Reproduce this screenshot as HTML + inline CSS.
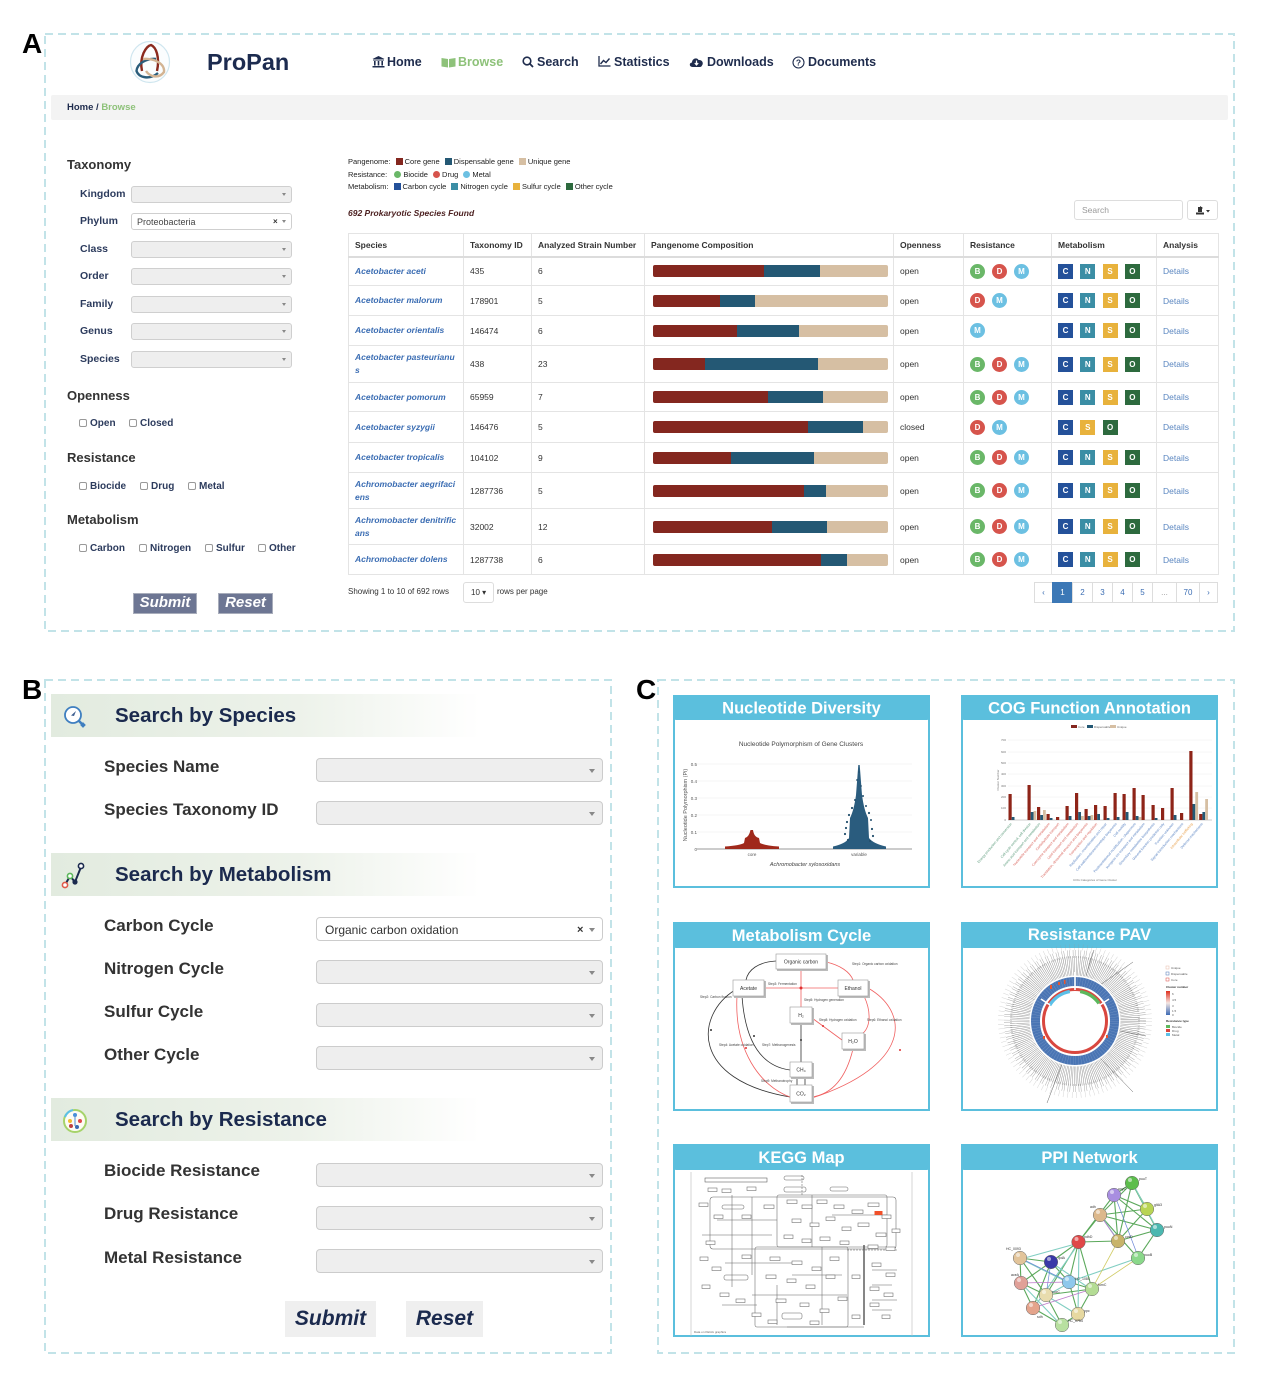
<!DOCTYPE html>
<html><head><meta charset="utf-8"><title>ProPan</title>
<style>
*{margin:0;padding:0;box-sizing:border-box}
html,body{width:1269px;height:1394px;background:#fff;overflow:hidden}
body{position:relative;font-family:"Liberation Sans",Arial,sans-serif;color:#333}
.a{position:absolute;white-space:nowrap}
.lbl{font-size:28px;font-weight:bold;color:#000;line-height:28px}
.nav{font-size:12.5px;font-weight:bold;color:#1f2c4d;line-height:16px;top:54px}
.h1{font-size:13px;font-weight:bold;color:#333;line-height:16px;left:67px}
.fl{font-size:10.5px;font-weight:bold;color:#2c3b5d;line-height:14px;left:80px}
.sel{position:absolute;left:131px;width:161px;height:17px;background:#eee;border:1px solid #cfcfcf;border-radius:3px}
.sel:after{content:"";position:absolute;right:5px;top:6px;border-left:2.5px solid transparent;border-right:2.5px solid transparent;border-top:3px solid #888}
.cb{font-size:10px;font-weight:bold;color:#2c3b5d;line-height:12px}
.cb i{display:inline-block;width:8px;height:8px;border:1px solid #999;border-radius:2px;margin-right:3px;vertical-align:-0.5px;background:#fff}
.btnA{position:absolute;background:#6d7693;border:1px solid #a8adbb;color:#fff;font-style:italic;font-weight:bold;font-size:15px;text-align:center;line-height:18px;height:21px;top:593px}
.lg{font-size:7.5px;color:#222;line-height:10px;left:348px}
.lg b{display:inline-block;width:7px;height:7px;margin:0 2px 0 3px;vertical-align:-0.5px}
.lg u{display:inline-block;width:7px;height:7px;border-radius:50%;margin:0 2px 0 3px;vertical-align:-0.5px;text-decoration:none}
.t{position:absolute;border-collapse:collapse;table-layout:fixed;font-size:8.5px;color:#333}
.t td,.t th{border:1px solid #e4e4e4;padding:0 0 0 6px;vertical-align:middle;text-align:left;white-space:nowrap;overflow:hidden}
.t th{font-weight:bold;border-bottom:2px solid #dcdcdc}
.t td.sp{color:#3b6db3;font-style:italic;font-weight:bold;line-height:13px}
.bar{display:flex;width:235px;height:12px;border-radius:2px;overflow:hidden;margin-left:2px}
.bar i{display:block;height:12px}
.bar .c{background:#84271f}.bar .d{background:#245874}.bar .u{background:#d6bfa3;flex:1}
.rs i{display:inline-block;width:15px;height:15px;border-radius:50%;color:#fff;font-size:8px;font-weight:bold;text-align:center;line-height:15px;margin-right:7px;font-style:normal;vertical-align:middle}
.mt i{display:inline-block;width:15px;height:15px;color:#fff;font-size:8px;font-weight:bold;text-align:center;line-height:15px;margin-right:7.3px;font-style:normal;vertical-align:middle}
i.B{background:#6ab768}i.D{background:#d6544c}i.M{background:#6cc0e2}
i.C{background:#24519a}i.N{background:#3b8ea5}i.S{background:#e8b23c}i.O{background:#2d6a3e}
.t td.dt{color:#5a86c0}
.pgn{position:absolute;top:582px;height:21px;border:1px solid #ddd;font-size:8px;color:#3b6db3;text-align:center;line-height:19px;background:#fff}
.hb{position:absolute;left:51px;width:550px;height:43px;background:linear-gradient(90deg,#e2ebdf 0%,#edf2ea 45%,#fff 78%)}
.ht{position:absolute;left:115px;font-size:20.5px;font-weight:bold;color:#1b2a4e;line-height:24px}
.bl{position:absolute;left:104px;font-size:17px;font-weight:bold;color:#333;line-height:20px}
.bs{position:absolute;left:316px;width:287px;height:24px;background:#eee;border:1px solid #ccc;border-radius:4px}
.bs:after{content:"";position:absolute;right:7px;top:10px;border-left:3px solid transparent;border-right:3px solid transparent;border-top:4px solid #888}
.btnB{position:absolute;top:1301px;height:36px;background:#efefef;color:#1b2a4e;font-style:italic;font-weight:bold;font-size:21px;text-align:center;line-height:36px}
</style></head><body>

<svg class="a" style="left:0;top:0" width="1269" height="1394" viewBox="0 0 1269 1394" font-family="Liberation Sans, Arial, sans-serif">
<rect x="45" y="34" width="1189" height="597" fill="none" stroke="#c2e3e8" stroke-width="2" stroke-dasharray="8 5"/>
<rect x="45" y="680" width="566" height="673" fill="none" stroke="#c2e3e8" stroke-width="2" stroke-dasharray="8 5"/>
<rect x="658" y="680" width="576" height="673" fill="none" stroke="#c2e3e8" stroke-width="2" stroke-dasharray="8 5"/>

<g stroke="#5bbfdd" stroke-width="2" fill="#fff">
<rect x="674" y="696" width="255" height="191"/>
<rect x="962" y="696" width="255" height="191"/>
<rect x="674" y="923" width="255" height="187"/>
<rect x="962" y="923" width="255" height="187"/>
<rect x="674" y="1145" width="255" height="191"/>
<rect x="962" y="1145" width="255" height="191"/>
</g>
<g fill="#5bbfdd">
<rect x="673" y="695" width="257" height="25" rx="3"/>
<rect x="961" y="695" width="257" height="25" rx="3"/>
<rect x="673" y="922" width="257" height="26" rx="3"/>
<rect x="961" y="922" width="257" height="26" rx="3"/>
<rect x="673" y="1144" width="257" height="26" rx="3"/>
<rect x="961" y="1144" width="257" height="26" rx="3"/>
</g>
<g fill="#fff" font-weight="bold" font-size="16.5" text-anchor="middle">
<text x="801.5" y="713.5">Nucleotide Diversity</text>
<text x="1089.5" y="713.5">COG Function Annotation</text>
<text x="801.5" y="941">Metabolism Cycle</text>
<text x="1089.5" y="940">Resistance PAV</text>
<text x="801.5" y="1163">KEGG Map</text>
<text x="1089.5" y="1163">PPI Network</text>
</g>

<!-- Nucleotide diversity -->
<text x="801" y="746" font-size="6.5" fill="#444" text-anchor="middle">Nucleotide Polymorphism of Gene Clusters</text>
<g stroke="#eee" stroke-width="0.6">
<line x1="697" y1="764" x2="912" y2="764"/><line x1="697" y1="781" x2="912" y2="781"/><line x1="697" y1="798" x2="912" y2="798"/><line x1="697" y1="815" x2="912" y2="815"/><line x1="697" y1="832" x2="912" y2="832"/>
</g>
<line x1="697" y1="849" x2="912" y2="849" stroke="#777" stroke-width="0.8"/>
<g font-size="4.5" fill="#555" text-anchor="end">
<text x="697" y="766">0.5</text><text x="697" y="783">0.4</text><text x="697" y="800">0.3</text><text x="697" y="817">0.2</text><text x="697" y="834">0.1</text><text x="697" y="851">0</text>
</g>
<text x="0" y="0" font-size="5.5" fill="#555" text-anchor="middle" transform="translate(687,805) rotate(-90)">Nucleotide Polymorphism (Pi)</text>
<text x="752" y="856" font-size="4.5" fill="#555" text-anchor="middle">core</text>
<text x="859" y="856" font-size="4.5" fill="#555" text-anchor="middle">variable</text>
<text x="805" y="866" font-size="5.5" fill="#444" text-anchor="middle" font-style="italic">Achromobacter xylosoxidans</text>
<path d="M725 849 L725 846.5 Q740 845.5 744 843 L745 838 Q749 837 750.5 830 L753 830 Q754 837 759 838 L760 843 Q765 845.5 779 846.5 L779 849 Z" fill="#a0291b"/>
<path d="M833 849 L833 846.5 Q846 843.5 849 838 L850 818 Q854 810 856 795 L858.3 765 L859.7 765 L862 795 Q864 810 868 818 L869 838 Q873 843.5 886 846.5 L886 849 Z" fill="#2a5c7e"/>
<g fill="#24506e">
<circle cx="855" cy="800" r="1"/><circle cx="863" cy="796" r="1"/><circle cx="852" cy="808" r="1.1"/><circle cx="866" cy="806" r="1"/><circle cx="849" cy="815" r="1.1"/><circle cx="869" cy="813" r="1.1"/><circle cx="847" cy="822" r="1.1"/><circle cx="871" cy="820" r="1"/><circle cx="846" cy="828" r="1.1"/><circle cx="872" cy="829" r="1.1"/><circle cx="857" cy="780" r="0.9"/><circle cx="861" cy="786" r="0.9"/><circle cx="859" cy="772" r="0.8"/><circle cx="845" cy="834" r="1.1"/><circle cx="873" cy="836" r="1.1"/><circle cx="848" cy="840" r="1.1"/><circle cx="870" cy="841" r="1.1"/>
</g>

<!-- COG -->
<g font-size="3" fill="#666">
<rect x="1071" y="725" width="6" height="3" fill="#84271f"/><text x="1078" y="728">Core</text>
<rect x="1087" y="725" width="6" height="3" fill="#245874"/><text x="1094" y="728">Dispensable</text>
<rect x="1110" y="725" width="6" height="3" fill="#d6bfa3"/><text x="1117" y="728">Unique</text>
</g>
<g stroke="#eee" stroke-width="0.5">
<line x1="1008" y1="740" x2="1212" y2="740"/><line x1="1008" y1="752" x2="1212" y2="752"/><line x1="1008" y1="763" x2="1212" y2="763"/><line x1="1008" y1="774" x2="1212" y2="774"/><line x1="1008" y1="786" x2="1212" y2="786"/><line x1="1008" y1="797" x2="1212" y2="797"/><line x1="1008" y1="808" x2="1212" y2="808"/>
</g>
<line x1="1008" y1="820" x2="1212" y2="820" stroke="#999" stroke-width="0.5"/>
<g font-size="3" fill="#777" text-anchor="end">
<text x="1006" y="741">700</text><text x="1006" y="753">600</text><text x="1006" y="764">500</text><text x="1006" y="775">400</text><text x="1006" y="787">300</text><text x="1006" y="798">200</text><text x="1006" y="809">100</text><text x="1006" y="821">0</text>
</g>
<text font-size="3" fill="#777" text-anchor="middle" transform="translate(999,780) rotate(-90)">Cluster Number</text>
<g fill="#8e2418">
<rect x="1008.5" y="794" width="3.2" height="26"/><rect x="1027.5" y="785" width="3.2" height="35"/><rect x="1037" y="807" width="3.2" height="13"/><rect x="1046.5" y="814" width="3.2" height="6"/><rect x="1056" y="817" width="3.2" height="3"/><rect x="1065.5" y="806" width="3.2" height="14"/><rect x="1075" y="793" width="3.2" height="27"/><rect x="1084.5" y="809" width="3.2" height="11"/><rect x="1094" y="805" width="3.2" height="15"/><rect x="1103.5" y="806" width="3.2" height="14"/><rect x="1113.5" y="793" width="3.2" height="27"/><rect x="1122.5" y="794" width="3.2" height="26"/><rect x="1132.5" y="788" width="3.2" height="32"/><rect x="1141.5" y="795" width="3.2" height="25"/><rect x="1151.5" y="805" width="3.2" height="15"/><rect x="1161" y="808" width="3.2" height="12"/><rect x="1170.5" y="788" width="3.2" height="32"/><rect x="1180" y="813" width="3.2" height="7"/><rect x="1189.3" y="751" width="3.2" height="69"/><rect x="1199.2" y="814" width="3.2" height="6"/>
</g>
<g fill="#245874">
<rect x="1011.7" y="817" width="2.8" height="3"/><rect x="1030.7" y="812" width="2.8" height="8"/><rect x="1040.2" y="815" width="2.8" height="5"/><rect x="1049.7" y="818" width="2.8" height="2"/><rect x="1068.7" y="816" width="2.8" height="4"/><rect x="1078.2" y="812" width="2.8" height="8"/><rect x="1087.7" y="816" width="2.8" height="4"/><rect x="1097.2" y="814" width="2.8" height="6"/><rect x="1106.7" y="818" width="2.8" height="2"/><rect x="1116.7" y="817" width="2.8" height="3"/><rect x="1125.7" y="812" width="2.8" height="8"/><rect x="1135.7" y="816" width="2.8" height="4"/><rect x="1154.7" y="818" width="2.8" height="2"/><rect x="1173.7" y="815" width="2.8" height="5"/><rect x="1192.5" y="804" width="2.8" height="16"/><rect x="1202.4" y="812" width="2.8" height="8"/>
</g>
<g fill="#d6bfa3">
<rect x="1033.5" y="811" width="2.8" height="9"/><rect x="1043" y="810" width="2.8" height="10"/><rect x="1081" y="816" width="2.8" height="4"/><rect x="1090.5" y="815" width="2.8" height="5"/><rect x="1138.5" y="817" width="2.8" height="3"/><rect x="1195.3" y="792" width="2.8" height="28"/><rect x="1205.2" y="799" width="2.8" height="21"/>
</g>
<g font-size="3.4">
<text transform="translate(1012,824) rotate(-50)" text-anchor="end" fill="#5a9a7a">Energy production and conversion</text>
<text transform="translate(1031,824) rotate(-50)" text-anchor="end" fill="#5a9a7a">Cell cycle control, cell division</text>
<text transform="translate(1040.5,824) rotate(-50)" text-anchor="end" fill="#5a9a7a">Amino acid transport and metabolism</text>
<text transform="translate(1050,824) rotate(-50)" text-anchor="end" fill="#d9645c">Nucleotide transport and metabolism</text>
<text transform="translate(1059.5,824) rotate(-50)" text-anchor="end" fill="#d9645c">Carbohydrate transport</text>
<text transform="translate(1069,824) rotate(-50)" text-anchor="end" fill="#d9645c">Coenzyme transport and metabolism</text>
<text transform="translate(1078.5,824) rotate(-50)" text-anchor="end" fill="#d9645c">Lipid transport and metabolism</text>
<text transform="translate(1088,824) rotate(-50)" text-anchor="end" fill="#d9645c">Translation, ribosomal structure and biogenesis</text>
<text transform="translate(1097.5,824) rotate(-50)" text-anchor="end" fill="#d9645c">Transcription and regulation</text>
<text transform="translate(1107,824) rotate(-50)" text-anchor="end" fill="#5d86c4">Replication, recombination and repair</text>
<text transform="translate(1117,824) rotate(-50)" text-anchor="end" fill="#5d86c4">Cell wall/membrane/envelope biogenesis</text>
<text transform="translate(1126,824) rotate(-50)" text-anchor="end" fill="#5d86c4">Cell motility</text>
<text transform="translate(1136,824) rotate(-50)" text-anchor="end" fill="#5d86c4">Posttranslational modification, chaperones</text>
<text transform="translate(1145,824) rotate(-50)" text-anchor="end" fill="#5d86c4">Inorganic ion transport and metabolism</text>
<text transform="translate(1155,824) rotate(-50)" text-anchor="end" fill="#5d86c4">Secondary metabolites biosynthesis</text>
<text transform="translate(1164.5,824) rotate(-50)" text-anchor="end" fill="#5d86c4">General function prediction only</text>
<text transform="translate(1174,824) rotate(-50)" text-anchor="end" fill="#5d86c4">Function unknown</text>
<text transform="translate(1183.5,824) rotate(-50)" text-anchor="end" fill="#5d86c4">Signal transduction mechanisms</text>
<text transform="translate(1193,824) rotate(-50)" text-anchor="end" fill="#e8a04c">Intracellular trafficking</text>
<text transform="translate(1203,824) rotate(-50)" text-anchor="end" fill="#5d86c4">Defense mechanisms</text>
</g>
<text x="1095" y="881" font-size="3" fill="#777" text-anchor="middle">COG Categories of Gene Cluster</text>

<!-- Metabolism cycle -->
<g fill="none" stroke-width="0.8">
<path d="M776 961 C758 962 748 970 746 980" stroke="#333"/>
<path d="M735 990 C695 1015 690 1080 790 1097" stroke="#333"/>
<path d="M742 996 C745 1040 760 1066 790 1070" stroke="#333"/>
<line x1="801" y1="1023" x2="801" y2="1062" stroke="#333"/>
<line x1="797" y1="1077" x2="797" y2="1085" stroke="#333"/>
<line x1="805" y1="1077" x2="805" y2="1085" stroke="#333"/>
<line x1="764" y1="988" x2="838" y2="988" stroke="#f06060"/>
<line x1="801" y1="969" x2="801" y2="1007" stroke="#f06060"/>
<line x1="812" y1="1018" x2="842" y2="1040" stroke="#f06060"/>
<path d="M826 962 C840 965 850 972 853 980" stroke="#f06060"/>
<path d="M868 988 C910 1012 912 1065 812 1098" stroke="#f06060"/>
<path d="M737 996 C734 1050 760 1086 790 1097" stroke="#f06060"/>
<path d="M864 996 C872 1013 870 1028 862 1034" stroke="#f06060"/>
<path d="M853 1049 C846 1078 832 1094 812 1097" stroke="#f06060"/>
</g>
<g fill="#e03030"><circle cx="801" cy="988" r="1.5"/><circle cx="746" cy="1048" r="1"/><circle cx="823" cy="1026" r="1"/><circle cx="900" cy="1050" r="1"/></g>
<g fill="#333"><circle cx="711" cy="1030" r="1"/><circle cx="754" cy="1036" r="1"/><circle cx="801" cy="1040" r="1"/></g>
<g fill="#bbb"><rect x="777" y="955" width="51" height="16"/><rect x="734" y="981" width="32" height="17"/><rect x="839" y="981" width="31" height="17"/><rect x="791" y="1008" width="23" height="17"/><rect x="843" y="1034" width="23" height="17"/><rect x="791" y="1063" width="23" height="16"/><rect x="791" y="1086" width="23" height="18"/></g>
<g fill="#fff" stroke="#999" stroke-width="0.6"><rect x="776" y="954" width="50" height="15"/><rect x="733" y="980" width="31" height="16"/><rect x="838" y="980" width="30" height="16"/><rect x="790" y="1007" width="22" height="16"/><rect x="842" y="1033" width="22" height="16"/><rect x="790" y="1062" width="22" height="15"/><rect x="790" y="1085" width="22" height="17"/></g>
<g font-size="5" fill="#333" text-anchor="middle">
<text x="801" y="963.5">Organic carbon</text><text x="748.5" y="990">Acetate</text><text x="853" y="990">Ethanol</text><text x="801" y="1017">H₂</text><text x="853" y="1043">H₂O</text><text x="801" y="1071.5">CH₄</text><text x="801" y="1095.5">CO₂</text>
</g>
<g font-size="3.2" fill="#444">
<text x="852" y="965">Step1: Organic carbon oxidation</text>
<text x="768" y="985">Step3: Fermentation</text>
<text x="700" y="998">Step2: Carbon fixation</text>
<text x="804" y="1001">Step5: Hydrogen generation</text>
<text x="819" y="1021">Step8: Hydrogen oxidation</text>
<text x="867" y="1021">Step6: Ethanol oxidation</text>
<text x="719" y="1046">Step4: Acetate oxidation</text>
<text x="762" y="1046">Step7: Methanogenesis</text>
<text x="761" y="1082">Step9: Methanotrophy</text>
</g>

<!-- Resistance PAV -->
<circle cx="1075" cy="1021" r="55" fill="none" stroke="#6a6a6a" stroke-width="20" stroke-dasharray="0.45 1.25" opacity="0.8"/>
<circle cx="1075" cy="1021" r="67" fill="none" stroke="#7a7a7a" stroke-width="8" stroke-dasharray="0.45 1.6 0.45 3" opacity="0.7"/>
<circle cx="1075" cy="1021" r="74" fill="none" stroke="#999" stroke-width="6" stroke-dasharray="0.4 4" opacity="0.5"/>
<g stroke="#666" stroke-width="0.5"><line x1="1100" y1="985" x2="1133" y2="962"/><line x1="1062" y1="1064" x2="1047" y2="1103"/><line x1="1100" y1="1058" x2="1133" y2="1092"/><line x1="1115" y1="1030" x2="1146" y2="1036"/><line x1="1086" y1="976" x2="1094" y2="950"/></g>
<circle cx="1075" cy="1021" r="45.5" fill="#fff"/>
<circle cx="1075" cy="1021" r="39.5" fill="none" stroke="#4a75b4" stroke-width="9"/>
<circle cx="1075" cy="1021" r="39.5" fill="none" stroke="#fff" stroke-width="9" stroke-dasharray="0.25 2.4" opacity="0.35"/>
<circle cx="1075" cy="1021" r="31.5" fill="none" stroke="#d9473f" stroke-width="3"/>
<path d="M1049.7 1005.2 A30 30 0 0 1 1069.8 991.5" fill="none" stroke="#5bc0e8" stroke-width="3.4"/>
<path d="M1080.2 991.5 A30 30 0 0 1 1099 1003.4" fill="none" stroke="#5cb85c" stroke-width="3.4"/>
<g stroke="#fff" stroke-width="1.6"><line x1="1075" y1="972" x2="1075" y2="990"/><line x1="1041" y1="999" x2="1050" y2="1005"/><line x1="1109" y1="999" x2="1100" y2="1005"/></g>
<g fill="#e8552e"><rect x="1050" y="985" width="2" height="4"/><rect x="1058" y="982" width="2" height="3"/><rect x="1064" y="980" width="1.5" height="4"/><rect x="1043" y="1036" width="2" height="3"/><rect x="1106" y="1035" width="2" height="3"/></g>
<g font-size="3" fill="#555">
<rect x="1166" y="966" width="3" height="3" fill="none" stroke="#e7b9a8" stroke-width="0.5"/><text x="1171" y="969">Unique</text>
<rect x="1166" y="972" width="3" height="3" fill="none" stroke="#4a75b4" stroke-width="0.5"/><text x="1171" y="975">Dispensable</text>
<rect x="1166" y="978" width="3" height="3" fill="none" stroke="#d9473f" stroke-width="0.5"/><text x="1171" y="981">Core</text>
<text x="1166" y="988" font-weight="bold" fill="#333">Cluster number</text>
</g>
<defs><linearGradient id="gr" x1="0" y1="0" x2="0" y2="1"><stop offset="0" stop-color="#e0301e"/><stop offset="0.5" stop-color="#f4e6e2"/><stop offset="1" stop-color="#3c6ab4"/></linearGradient></defs>
<rect x="1166" y="991" width="4" height="24" fill="url(#gr)"/>
<g font-size="3" fill="#555"><text x="1172" y="995">6</text><text x="1172" y="1001">4.5</text><text x="1172" y="1007">3</text><text x="1172" y="1012">1.5</text><text x="1172" y="1016">0</text>
<text x="1166" y="1022" font-weight="bold" fill="#333">Resistance type</text>
<rect x="1166" y="1025" width="4" height="3" fill="#5cb85c"/><text x="1172" y="1028">Biocide</text>
<rect x="1166" y="1029" width="4" height="3" fill="#d9473f"/><text x="1172" y="1032">Drug</text>
<rect x="1166" y="1033" width="4" height="3" fill="#5bc0e8"/><text x="1172" y="1036">Metal</text></g>

<!-- KEGG map -->
<g stroke="#bbb" stroke-width="0.6"><line x1="691" y1="1172" x2="691" y2="1336"/><line x1="912" y1="1172" x2="912" y2="1336"/></g>
<g transform="translate(692,1175)" fill="none" stroke="#666" stroke-width="0.55">
<rect x="13" y="3" width="62" height="4" stroke="#555"/>
<rect x="18" y="22" width="186" height="52" rx="3"/>
<rect x="63" y="72" width="93" height="80" rx="2"/>
<rect x="85" y="20" width="110" height="52" rx="2"/>
<line x1="40" y1="20" x2="40" y2="112"/><line x1="10" y1="60" x2="80" y2="60"/><line x1="33" y1="88" x2="110" y2="88"/>
<line x1="25" y1="45" x2="85" y2="45"/><line x1="60" y1="22" x2="60" y2="100"/><line x1="120" y1="20" x2="120" y2="72"/><line x1="140" y1="40" x2="195" y2="40"/><line x1="100" y1="100" x2="150" y2="100"/><line x1="130" y1="72" x2="130" y2="150"/><line x1="85" y1="110" x2="85" y2="150"/>
<line x1="172" y1="70" x2="172" y2="150" stroke="#444" stroke-width="1.3"/>
<line x1="155" y1="75" x2="205" y2="75" stroke-dasharray="2 1"/>
<line x1="110" y1="0" x2="110" y2="20" stroke-dasharray="2 1"/>
<line x1="95" y1="152" x2="172" y2="152"/><line x1="60" y1="120" x2="155" y2="120"/>
<line x1="30" y1="130" x2="65" y2="130"/><line x1="180" y1="95" x2="205" y2="95"/><line x1="180" y1="110" x2="200" y2="110"/><line x1="180" y1="125" x2="205" y2="125"/><line x1="180" y1="135" x2="200" y2="135"/>
<rect x="92" y="12" width="22" height="5" rx="2"/><rect x="92" y="1" width="20" height="4" rx="2"/>
<rect x="30" y="30" width="22" height="4" rx="2"/><rect x="138" y="12" width="18" height="4" rx="2"/>
<rect x="32" y="100" width="24" height="5" rx="2"/><rect x="90" y="138" width="20" height="6" rx="2"/>
<g fill="#fff" stroke="#666">
<rect x="16" y="13" width="9" height="3.5"/><rect x="30" y="14" width="9" height="3.5"/><rect x="55" y="12" width="9" height="3.5"/><rect x="7" y="28" width="9" height="3.5"/><rect x="22" y="40" width="9" height="3.5"/><rect x="50" y="40" width="9" height="3.5"/><rect x="72" y="30" width="10" height="3.5"/><rect x="95" y="25" width="10" height="3.5"/><rect x="110" y="30" width="10" height="3.5"/><rect x="125" y="25" width="10" height="3.5"/><rect x="142" y="30" width="10" height="3.5"/><rect x="160" y="35" width="11" height="3.5"/><rect x="176" y="28" width="11" height="3.5"/><rect x="190" y="40" width="9" height="3.5"/><rect x="100" y="44" width="9" height="3.5"/><rect x="118" y="48" width="9" height="3.5"/><rect x="134" y="42" width="9" height="3.5"/><rect x="150" y="52" width="9" height="3.5"/><rect x="166" y="48" width="11" height="3.5"/><rect x="184" y="58" width="10" height="3.5"/><rect x="200" y="54" width="8" height="3.5"/><rect x="92" y="60" width="9" height="3.5"/><rect x="110" y="64" width="9" height="3.5"/><rect x="128" y="62" width="10" height="3.5"/><rect x="148" y="66" width="9" height="3.5"/><rect x="176" y="70" width="10" height="3.5"/><rect x="194" y="72" width="9" height="3.5"/><rect x="14" y="66" width="9" height="3.5"/><rect x="8" y="82" width="8" height="3.5"/><rect x="50" y="80" width="9" height="3.5"/><rect x="20" y="92" width="9" height="3.5"/><rect x="10" y="110" width="8" height="3.5"/><rect x="28" y="118" width="9" height="3.5"/><rect x="44" y="124" width="9" height="3.5"/><rect x="78" y="82" width="10" height="3.5"/><rect x="100" y="86" width="10" height="3.5"/><rect x="120" y="92" width="9" height="3.5"/><rect x="138" y="82" width="9" height="3.5"/><rect x="74" y="100" width="10" height="3.5"/><rect x="95" y="104" width="9" height="3.5"/><rect x="114" y="110" width="9" height="3.5"/><rect x="134" y="100" width="9" height="3.5"/><rect x="84" y="124" width="10" height="3.5"/><rect x="108" y="128" width="9" height="3.5"/><rect x="128" y="134" width="9" height="3.5"/><rect x="146" y="122" width="9" height="3.5"/><rect x="180" y="88" width="9" height="3.5"/><rect x="194" y="98" width="9" height="3.5"/><rect x="178" y="112" width="9" height="3.5"/><rect x="192" y="118" width="9" height="3.5"/><rect x="178" y="128" width="9" height="3.5"/><rect x="190" y="140" width="8" height="3.5"/><rect x="76" y="145" width="9" height="3.5"/><rect x="60" y="138" width="9" height="3.5"/><rect x="118" y="146" width="9" height="3.5"/><rect x="160" y="100" width="8" height="3.5"/><rect x="160" y="140" width="8" height="3.5"/>
</g>
<rect x="182.5" y="36" width="8" height="4" fill="#f0502a" stroke="none"/>
<text x="2" y="158" font-size="3" fill="#666" stroke="none">Data on KEGG graphics</text>
</g>

<!-- PPI network -->
<g stroke-width="1.1" opacity="0.85">
<g stroke="#3f9a3f"><line x1="1132" y1="1183" x2="1114" y2="1195"/><line x1="1132" y1="1183" x2="1147" y2="1209"/><line x1="1132" y1="1183" x2="1100" y2="1215"/><line x1="1132" y1="1183" x2="1157" y2="1230"/><line x1="1132" y1="1183" x2="1118" y2="1241"/><line x1="1114" y1="1195" x2="1147" y2="1209"/><line x1="1114" y1="1195" x2="1157" y2="1230"/><line x1="1114" y1="1195" x2="1118" y2="1241"/><line x1="1100" y1="1215" x2="1147" y2="1209"/><line x1="1100" y1="1215" x2="1157" y2="1230"/><line x1="1100" y1="1215" x2="1138" y2="1258"/><line x1="1147" y1="1209" x2="1118" y2="1241"/><line x1="1157" y1="1230" x2="1118" y2="1241"/><line x1="1157" y1="1230" x2="1138" y2="1258"/><line x1="1078.5" y1="1242" x2="1100" y2="1215"/><line x1="1078.5" y1="1242" x2="1114" y2="1195"/><line x1="1078.5" y1="1242" x2="1118" y2="1241"/><line x1="1078.5" y1="1242" x2="1051" y2="1262"/><line x1="1078.5" y1="1242" x2="1069" y2="1282"/><line x1="1078.5" y1="1242" x2="1046" y2="1295"/><line x1="1078.5" y1="1242" x2="1092" y2="1289"/><line x1="1020" y1="1258" x2="1051" y2="1262"/><line x1="1020" y1="1258" x2="1021" y2="1283"/><line x1="1020" y1="1258" x2="1046" y2="1295"/><line x1="1051" y1="1262" x2="1069" y2="1282"/><line x1="1051" y1="1262" x2="1021" y2="1283"/><line x1="1051" y1="1262" x2="1033" y2="1308"/><line x1="1069" y1="1282" x2="1092" y2="1289"/><line x1="1069" y1="1282" x2="1078" y2="1314"/><line x1="1021" y1="1283" x2="1046" y2="1295"/><line x1="1021" y1="1283" x2="1033" y2="1308"/><line x1="1046" y1="1295" x2="1092" y2="1289"/><line x1="1046" y1="1295" x2="1062" y2="1325"/><line x1="1033" y1="1308" x2="1062" y2="1325"/><line x1="1078" y1="1314" x2="1062" y2="1325"/><line x1="1092" y1="1289" x2="1078" y2="1314"/></g>
<g stroke="#6cc6b8"><line x1="1133" y1="1184" x2="1158" y2="1231"/><line x1="1101" y1="1216" x2="1119" y2="1242"/><line x1="1079" y1="1243" x2="1021" y2="1259"/><line x1="1079" y1="1243" x2="1033" y2="1309"/><line x1="1079" y1="1243" x2="1078" y2="1315"/><line x1="1021" y1="1259" x2="1069" y2="1283"/><line x1="1052" y1="1263" x2="1092" y2="1290"/><line x1="1022" y1="1284" x2="1062" y2="1326"/><line x1="1069" y1="1283" x2="1046" y2="1296"/><line x1="1047" y1="1296" x2="1078" y2="1315"/><line x1="1138" y1="1258" x2="1069" y2="1282"/></g>
<g stroke="#5070d0" stroke-width="0.7"><line x1="1115" y1="1196" x2="1139" y2="1259"/><line x1="1051" y1="1262" x2="1046" y2="1295"/><line x1="1020" y1="1258" x2="1069" y2="1282"/></g>
<g stroke="#b060c0" stroke-width="0.7"><line x1="1100" y1="1215" x2="1118" y2="1241"/><line x1="1021" y1="1283" x2="1069" y2="1282"/><line x1="1033" y1="1308" x2="1092" y2="1289"/></g>
<g stroke="#c8c24a" stroke-width="0.8"><line x1="1118" y1="1241" x2="1092" y2="1289"/><line x1="1138" y1="1258" x2="1092" y2="1289"/></g>
</g>
<g stroke="#666" stroke-width="0.5">
<circle cx="1132" cy="1183" r="6.8" fill="#5cbd4c"/><circle cx="1114" cy="1195" r="6.8" fill="#a88ee0"/><circle cx="1147" cy="1209" r="6.8" fill="#b8d454"/><circle cx="1100" cy="1215" r="6.8" fill="#dcb88c"/><circle cx="1157" cy="1230" r="6.8" fill="#4cb8b0"/><circle cx="1118" cy="1241" r="6.8" fill="#c8b46a"/><circle cx="1078.5" cy="1242" r="6.8" fill="#e04848"/><circle cx="1138" cy="1258" r="6.8" fill="#8ad88a"/><circle cx="1020" cy="1258" r="6.8" fill="#e2c49a"/><circle cx="1051" cy="1262" r="6.8" fill="#3a3aa8"/><circle cx="1069" cy="1282" r="6.8" fill="#8ec8ec"/><circle cx="1021" cy="1283" r="6.8" fill="#e0a098"/><circle cx="1092" cy="1289" r="6.8" fill="#b4dc94"/><circle cx="1046" cy="1295" r="6.8" fill="#e8dcae"/><circle cx="1033" cy="1308" r="6.8" fill="#e4a48c"/><circle cx="1078" cy="1314" r="6.8" fill="#e6d8a0"/><circle cx="1062" cy="1325" r="6.8" fill="#b8e0a0"/>
</g>
<g fill="#fff" opacity="0.55"><circle cx="1130" cy="1180" r="2"/><circle cx="1112" cy="1192" r="2"/><circle cx="1145" cy="1206" r="2"/><circle cx="1098" cy="1212" r="2"/><circle cx="1155" cy="1227" r="2"/><circle cx="1116" cy="1238" r="2"/><circle cx="1076.5" cy="1239" r="2"/><circle cx="1136" cy="1255" r="2"/><circle cx="1018" cy="1255" r="2"/><circle cx="1049" cy="1259" r="2"/><circle cx="1067" cy="1279" r="2"/><circle cx="1019" cy="1280" r="2"/><circle cx="1090" cy="1286" r="2"/><circle cx="1044" cy="1292" r="2"/><circle cx="1031" cy="1305" r="2"/><circle cx="1076" cy="1311" r="2"/><circle cx="1060" cy="1322" r="2"/></g>
<g font-size="3.5" fill="#333">
<text x="1139" y="1180">puuT</text><text x="1118" y="1190">oxyC</text><text x="1154" y="1206">gltA3</text><text x="1090" y="1208">adh</text><text x="1164" y="1228">puuN</text><text x="1125" y="1238">ccsD</text><text x="1084" y="1238">pdhD</text><text x="1144" y="1256">nuoB</text><text x="1006" y="1250">HC_0093</text><text x="1058" y="1259">lpdA</text><text x="1075" y="1280">HC_1084</text><text x="1011" y="1276">aceA</text><text x="1098" y="1286">fumC</text><text x="1052" y="1293">sucC</text><text x="1037" y="1318">sdh</text><text x="1084" y="1312">ppc</text><text x="1068" y="1322">HC_0754</text>
</g>
</svg>

<!-- ===== Panel A ===== -->
<div class="a lbl" style="left:22px;top:30px">A</div>
<div class="a lbl" style="left:22px;top:676px">B</div>
<div class="a lbl" style="left:636px;top:676px">C</div>

<svg class="a" style="left:128px;top:40px" width="44" height="44" viewBox="128 40 44 44">
<ellipse cx="150" cy="62" rx="19.5" ry="20.5" fill="#fbfdfe" stroke="#cfe6ef" stroke-width="1.2"/>
<path d="M142 71 C139 57 146 46 151 45 C156 47 160 57 157 71" fill="none" stroke="#8b2a1e" stroke-width="2.4"/>
<path d="M158 73 C150 80 139 78 136.5 71 C137 64 146 58 156 59" fill="none" stroke="#2b5d7b" stroke-width="2.4"/>
<path d="M143 59 C153 58 165 63 164 72 C159 79 150 77 146 71" fill="none" stroke="#d3b493" stroke-width="2.4"/>
</svg>
<div class="a" style="left:207px;top:48px;font-size:23.5px;font-weight:bold;color:#1c2b4f;line-height:28px">ProPan</div>

<svg class="a" style="left:372px;top:56px" width="13" height="12" viewBox="0 0 13 12"><path d="M6.5 0 L12.5 3 L0.5 3 Z" fill="#1f2c4d"/><rect x="1" y="3.5" width="11" height="1" fill="#1f2c4d"/><rect x="2" y="5" width="1.6" height="4.5" fill="#1f2c4d"/><rect x="5.7" y="5" width="1.6" height="4.5" fill="#1f2c4d"/><rect x="9.4" y="5" width="1.6" height="4.5" fill="#1f2c4d"/><rect x="0.5" y="10" width="12" height="1.5" fill="#1f2c4d"/></svg>
<div class="a nav" style="left:387px">Home</div>
<svg class="a" style="left:441px;top:57px" width="15" height="11" viewBox="0 0 15 11"><path d="M0.5 1 L7 2 L7 10.5 L0.5 9.5 Z" fill="#8ec27a"/><path d="M8 2 L14.5 1 L14.5 9.5 L8 10.5 Z" fill="#8ec27a"/></svg>
<div class="a nav" style="left:458px;color:#8ec27a">Browse</div>
<svg class="a" style="left:522px;top:56px" width="12" height="12" viewBox="0 0 12 12"><circle cx="5" cy="5" r="3.8" fill="none" stroke="#1f2c4d" stroke-width="1.6"/><line x1="7.8" y1="7.8" x2="11" y2="11" stroke="#1f2c4d" stroke-width="1.8"/></svg>
<div class="a nav" style="left:537px">Search</div>
<svg class="a" style="left:598px;top:56px" width="13" height="11" viewBox="0 0 13 11"><path d="M1 0 L1 10 L12.5 10" fill="none" stroke="#1f2c4d" stroke-width="1.3"/><path d="M2.5 8 L5.5 4.5 L8 6.5 L11.5 2.5" fill="none" stroke="#1f2c4d" stroke-width="1.4"/></svg>
<div class="a nav" style="left:614px">Statistics</div>
<svg class="a" style="left:689px;top:56px" width="15" height="12" viewBox="0 0 15 12"><path d="M3.5 11 C0 11 0 6.5 3 6.5 C3 2.5 8 1 9.5 4 C13 3.5 15 7 13 9.5 C12.5 10.5 12 11 11 11 Z" fill="#1f2c4d"/><path d="M7.5 4.5 L7.5 8.5 M5.8 7 L7.5 9 L9.2 7" stroke="#fff" stroke-width="1.2" fill="none"/></svg>
<div class="a nav" style="left:707px">Downloads</div>
<svg class="a" style="left:792px;top:56px" width="13" height="13" viewBox="0 0 13 13"><circle cx="6.5" cy="6.5" r="5.5" fill="none" stroke="#1f2c4d" stroke-width="1.1"/><text x="6.5" y="9.5" font-size="8.5" font-weight="bold" text-anchor="middle" fill="#1f2c4d" font-family="Liberation Sans, sans-serif">?</text></svg>
<div class="a nav" style="left:808px">Documents</div>

<div class="a" style="left:51px;top:95px;width:1177px;height:25px;background:#f3f3f3;border-radius:2px"></div>
<div class="a" style="left:67px;top:102px;font-size:9.5px;font-weight:bold;line-height:12px;color:#1f2c4d">Home / <span style="color:#8ec27a">Browse</span></div>

<div class="a h1" style="top:157px">Taxonomy</div>
<div class="a fl" style="top:187px">Kingdom</div><div class="sel" style="top:186px"></div>
<div class="a fl" style="top:214px">Phylum</div><div class="sel" style="top:213px;background:#fff"><span class="a" style="left:5px;top:2px;font-size:9px;color:#444;line-height:12px">Proteobacteria</span><span class="a" style="left:141px;top:2px;font-size:8px;font-weight:bold;color:#333;line-height:12px">×</span></div>
<div class="a fl" style="top:242px">Class</div><div class="sel" style="top:241px"></div>
<div class="a fl" style="top:269px">Order</div><div class="sel" style="top:268px"></div>
<div class="a fl" style="top:297px">Family</div><div class="sel" style="top:296px"></div>
<div class="a fl" style="top:324px">Genus</div><div class="sel" style="top:323px"></div>
<div class="a fl" style="top:352px">Species</div><div class="sel" style="top:351px"></div>

<div class="a h1" style="top:388px">Openness</div>
<div class="a cb" style="left:79px;top:418px"><i></i>Open</div>
<div class="a cb" style="left:129px;top:418px"><i></i>Closed</div>
<div class="a h1" style="top:450px">Resistance</div>
<div class="a cb" style="left:79px;top:481px"><i></i>Biocide</div>
<div class="a cb" style="left:140px;top:481px"><i></i>Drug</div>
<div class="a cb" style="left:188px;top:481px"><i></i>Metal</div>
<div class="a h1" style="top:512px">Metabolism</div>
<div class="a cb" style="left:79px;top:543px"><i></i>Carbon</div>
<div class="a cb" style="left:139px;top:543px"><i></i>Nitrogen</div>
<div class="a cb" style="left:205px;top:543px"><i></i>Sulfur</div>
<div class="a cb" style="left:258px;top:543px"><i></i>Other</div>
<div class="btnA" style="left:133px;width:64px">Submit</div>
<div class="btnA" style="left:218px;width:55px">Reset</div>

<div class="a lg" style="top:157px">Pangenome: <b style="background:#84271f"></b>Core gene <b style="background:#245874"></b>Dispensable gene <b style="background:#d6bfa3"></b>Unique gene</div>
<div class="a lg" style="top:170px">Resistance: &nbsp;<u style="background:#6ab768"></u>Biocide <u style="background:#d6544c"></u>Drug <u style="background:#6cc0e2"></u>Metal</div>
<div class="a lg" style="top:182px">Metabolism: <b style="background:#24519a"></b>Carbon cycle <b style="background:#3b8ea5"></b>Nitrogen cycle <b style="background:#e8b23c"></b>Sulfur cycle <b style="background:#2d6a3e"></b>Other cycle</div>
<div class="a" style="left:348px;top:207px;font-size:8.5px;font-weight:bold;font-style:italic;color:#4b1f1f;line-height:12px">692 Prokaryotic Species Found</div>
<div class="a" style="left:1074px;top:200px;width:109px;height:20px;border:1px solid #ddd;border-radius:3px;font-size:8.5px;color:#999;line-height:18px;padding-left:7px">Search</div>
<div class="a" style="left:1187px;top:200px;width:31px;height:20px;border:1px solid #ddd;border-radius:3px"><svg class="a" style="left:7px;top:5px" width="16" height="9" viewBox="0 0 16 9"><rect x="1" y="6.5" width="8" height="2" fill="#333"/><rect x="3" y="1" width="4" height="5" fill="#333"/><path d="M5 0 L8 2 L5 4 Z" fill="#333"/><path d="M11 4 L15 4 L13 6.5 Z" fill="#333"/></svg></div>

<table class="t" style="left:348px;top:233px;width:870px">
<colgroup><col style="width:115px"><col style="width:68px"><col style="width:113px"><col style="width:249px"><col style="width:70px"><col style="width:88px"><col style="width:105px"><col style="width:62px"></colgroup>
<tr style="height:23px"><th>Species</th><th>Taxonomy ID</th><th>Analyzed Strain Number</th><th>Pangenome Composition</th><th>Openness</th><th>Resistance</th><th>Metabolism</th><th>Analysis</th></tr>
<tr style="height:29px"><td class="sp">Acetobacter aceti</td><td>435</td><td>6</td><td><div class="bar"><i class="c" style="width:47.1%"></i><i class="d" style="width:24%"></i><i class="u"></i></div></td><td>open</td><td class="rs"><i class="B">B</i><i class="D">D</i><i class="M">M</i></td><td class="mt"><i class="C">C</i><i class="N">N</i><i class="S">S</i><i class="O">O</i></td><td class="dt">Details</td></tr>
<tr style="height:30px"><td class="sp">Acetobacter malorum</td><td>178901</td><td>5</td><td><div class="bar"><i class="c" style="width:28.4%"></i><i class="d" style="width:15.1%"></i><i class="u"></i></div></td><td>open</td><td class="rs"><i class="D">D</i><i class="M">M</i></td><td class="mt"><i class="C">C</i><i class="N">N</i><i class="S">S</i><i class="O">O</i></td><td class="dt">Details</td></tr>
<tr style="height:30px"><td class="sp">Acetobacter orientalis</td><td>146474</td><td>6</td><td><div class="bar"><i class="c" style="width:35.7%"></i><i class="d" style="width:26.6%"></i><i class="u"></i></div></td><td>open</td><td class="rs"><i class="M">M</i></td><td class="mt"><i class="C">C</i><i class="N">N</i><i class="S">S</i><i class="O">O</i></td><td class="dt">Details</td></tr>
<tr style="height:37px"><td class="sp">Acetobacter pasteurianu<br>s</td><td>438</td><td>23</td><td><div class="bar"><i class="c" style="width:22.3%"></i><i class="d" style="width:47.9%"></i><i class="u"></i></div></td><td>open</td><td class="rs"><i class="B">B</i><i class="D">D</i><i class="M">M</i></td><td class="mt"><i class="C">C</i><i class="N">N</i><i class="S">S</i><i class="O">O</i></td><td class="dt">Details</td></tr>
<tr style="height:29px"><td class="sp">Acetobacter pomorum</td><td>65959</td><td>7</td><td><div class="bar"><i class="c" style="width:48.8%"></i><i class="d" style="width:23.7%"></i><i class="u"></i></div></td><td>open</td><td class="rs"><i class="B">B</i><i class="D">D</i><i class="M">M</i></td><td class="mt"><i class="C">C</i><i class="N">N</i><i class="S">S</i><i class="O">O</i></td><td class="dt">Details</td></tr>
<tr style="height:31px"><td class="sp">Acetobacter syzygii</td><td>146476</td><td>5</td><td><div class="bar"><i class="c" style="width:66.1%"></i><i class="d" style="width:23.3%"></i><i class="u"></i></div></td><td>closed</td><td class="rs"><i class="D">D</i><i class="M">M</i></td><td class="mt"><i class="C">C</i><i class="S">S</i><i class="O">O</i></td><td class="dt">Details</td></tr>
<tr style="height:30px"><td class="sp">Acetobacter tropicalis</td><td>104102</td><td>9</td><td><div class="bar"><i class="c" style="width:33.4%"></i><i class="d" style="width:35.3%"></i><i class="u"></i></div></td><td>open</td><td class="rs"><i class="B">B</i><i class="D">D</i><i class="M">M</i></td><td class="mt"><i class="C">C</i><i class="N">N</i><i class="S">S</i><i class="O">O</i></td><td class="dt">Details</td></tr>
<tr style="height:36px"><td class="sp">Achromobacter aegrifaci<br>ens</td><td>1287736</td><td>5</td><td><div class="bar"><i class="c" style="width:64.2%"></i><i class="d" style="width:9.5%"></i><i class="u"></i></div></td><td>open</td><td class="rs"><i class="B">B</i><i class="D">D</i><i class="M">M</i></td><td class="mt"><i class="C">C</i><i class="N">N</i><i class="S">S</i><i class="O">O</i></td><td class="dt">Details</td></tr>
<tr style="height:36px"><td class="sp">Achromobacter denitrific<br>ans</td><td>32002</td><td>12</td><td><div class="bar"><i class="c" style="width:50.6%"></i><i class="d" style="width:23.6%"></i><i class="u"></i></div></td><td>open</td><td class="rs"><i class="B">B</i><i class="D">D</i><i class="M">M</i></td><td class="mt"><i class="C">C</i><i class="N">N</i><i class="S">S</i><i class="O">O</i></td><td class="dt">Details</td></tr>
<tr style="height:30px"><td class="sp">Achromobacter dolens</td><td>1287738</td><td>6</td><td><div class="bar"><i class="c" style="width:71.3%"></i><i class="d" style="width:11.4%"></i><i class="u"></i></div></td><td>open</td><td class="rs"><i class="B">B</i><i class="D">D</i><i class="M">M</i></td><td class="mt"><i class="C">C</i><i class="N">N</i><i class="S">S</i><i class="O">O</i></td><td class="dt">Details</td></tr>
</table>

<div class="a" style="left:348px;top:586px;font-size:8px;line-height:12px;color:#333">Showing 1 to 10 of 692 rows</div>
<div class="a" style="left:463px;top:582px;width:31px;height:21px;border:1px solid #ddd;border-radius:3px;font-size:8px;line-height:19px;padding-left:7px;color:#333">10 ▾</div>
<div class="a" style="left:497px;top:586px;font-size:8px;line-height:12px;color:#333">rows per page</div>
<div class="pgn" style="left:1034px;width:19px">‹</div>
<div class="pgn" style="left:1052px;width:21px;background:#3c78b6;border-color:#3c78b6;color:#fff">1</div>
<div class="pgn" style="left:1072px;width:21px">2</div>
<div class="pgn" style="left:1092px;width:21px">3</div>
<div class="pgn" style="left:1112px;width:21px">4</div>
<div class="pgn" style="left:1132px;width:21px">5</div>
<div class="pgn" style="left:1152px;width:25px;color:#999">...</div>
<div class="pgn" style="left:1176px;width:24px">70</div>
<div class="pgn" style="left:1199px;width:19px">›</div>

<!-- ===== Panel B ===== -->
<div class="hb" style="top:694px"></div>
<svg class="a" style="left:62px;top:704px" width="26" height="26" viewBox="0 0 26 26"><circle cx="11" cy="11" r="8" fill="#fff" stroke="#3f7fc0" stroke-width="1.8"/><path d="M14 7 L9 11.5 L12 12 Z" fill="#3f5f90"/><path d="M17 17 L21 21" stroke="#3f7fc0" stroke-width="2.5"/><rect x="19" y="19" width="4" height="4" fill="#3f7fc0" transform="rotate(45 21 21)"/></svg>
<div class="ht" style="top:704px">Search by Species</div>
<div class="bl" style="top:757px">Species Name</div><div class="bs" style="top:758px"></div>
<div class="bl" style="top:800px">Species Taxonomy ID</div><div class="bs" style="top:801px"></div>

<div class="hb" style="top:853px"></div>
<svg class="a" style="left:60px;top:861px" width="30" height="30" viewBox="0 0 30 30"><path d="M5 24 L10 15 L15 21 L21 6" fill="none" stroke="#1b2a4e" stroke-width="2"/><circle cx="5" cy="24" r="2.6" fill="#fff" stroke="#e05a4a" stroke-width="1.6"/><circle cx="10" cy="15" r="2.6" fill="#fff" stroke="#5cb85c" stroke-width="1.6"/><circle cx="15" cy="21" r="2.6" fill="#1b2a4e"/><circle cx="21" cy="5" r="2.6" fill="#fff" stroke="#1b2a4e" stroke-width="1.6"/></svg>
<div class="ht" style="top:863px">Search by Metabolism</div>
<div class="bl" style="top:916px">Carbon Cycle</div>
<div class="bs" style="top:917px;background:#fff"><span class="a" style="left:8px;top:5px;font-size:12px;color:#333;line-height:14px">Organic carbon oxidation</span><span class="a" style="left:260px;top:5px;font-size:11px;font-weight:bold;color:#333;line-height:14px">×</span></div>
<div class="bl" style="top:959px">Nitrogen Cycle</div><div class="bs" style="top:960px"></div>
<div class="bl" style="top:1002px">Sulfur Cycle</div><div class="bs" style="top:1003px"></div>
<div class="bl" style="top:1045px">Other Cycle</div><div class="bs" style="top:1046px"></div>

<div class="hb" style="top:1098px"></div>
<svg class="a" style="left:61px;top:1107px" width="28" height="28" viewBox="0 0 28 28"><circle cx="14" cy="14" r="11" fill="#fdfcf4" stroke="#a6d36a" stroke-width="2"/><path d="M4 10 A11 11 0 0 1 12 3" fill="none" stroke="#5bc0e8" stroke-width="2"/><circle cx="14" cy="8" r="2" fill="#4a90d9"/><circle cx="9" cy="14" r="2" fill="#f0c030"/><circle cx="19" cy="14" r="2" fill="#e04848"/><circle cx="10" cy="19" r="2" fill="#c04040"/><circle cx="16" cy="20" r="2" fill="#3a6ab0"/><line x1="14" y1="10" x2="14" y2="19" stroke="#6aa0d8" stroke-width="1.2"/></svg>
<div class="ht" style="top:1108px">Search by Resistance</div>
<div class="bl" style="top:1161px">Biocide Resistance</div><div class="bs" style="top:1163px"></div>
<div class="bl" style="top:1204px">Drug Resistance</div><div class="bs" style="top:1206px"></div>
<div class="bl" style="top:1248px">Metal Resistance</div><div class="bs" style="top:1249px"></div>
<div class="btnB" style="left:285px;width:91px">Submit</div>
<div class="btnB" style="left:406px;width:77px">Reset</div>

</body></html>
